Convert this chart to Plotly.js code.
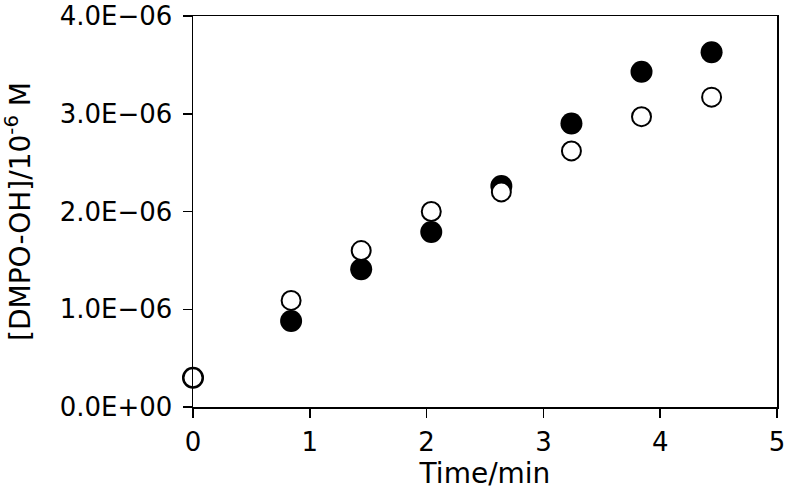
<!DOCTYPE html>
<html>
<head>
<meta charset="utf-8">
<script src="https://cdn.plot.ly/plotly-3.0.1.min.js"></script>
<style>
  html, body { margin: 0; padding: 0; background: #fff; }
  #plot { width: 789px; height: 494px; }
</style>
</head>
<body>
<div id="plot"></div>
<script>
// Czas w minutach
const time = [0, 0.84, 1.44, 2.04, 2.64, 3.24, 3.84, 4.44];

// Serie: pełne kółka i puste kółka
const filled = [0.3e-6, 0.88e-6, 1.41e-6, 1.79e-6, 2.26e-6, 2.90e-6, 3.43e-6, 3.63e-6];
const open = [0.3e-6, 1.09e-6, 1.60e-6, 2.00e-6, 2.20e-6, 2.62e-6, 2.97e-6, 3.17e-6];

// Etykiety osi Y w stylu Excela
const yTickVals = [0, 1e-6, 2e-6, 3e-6, 4e-6];
const yTickText = ['0.0E+00', '1.0E\u221206', '2.0E\u221206', '3.0E\u221206', '4.0E\u221206'];
const xTickVals = [0, 1, 2, 3, 4, 5];

const tickFont = { family: 'DejaVu Sans, Verdana, sans-serif', size: 26, color: '#000' };
const titleFont = { family: 'DejaVu Sans, Verdana, sans-serif', size: 28, color: '#000' };

const traces = [
    {
        x: time, y: filled, mode: 'markers', type: 'scatter', cliponaxis: false,
        marker: { symbol: 'circle', size: 22, color: '#000' }
    },
    {
        x: time, y: open, mode: 'markers', type: 'scatter', cliponaxis: false,
        marker: { symbol: 'circle', size: 19, color: '#fff', line: { color: '#000', width: 2 } }
    }
];

const layout = {
    width: 789, height: 494,
    margin: { l: 193, r: 12, t: 16, b: 87 },
    paper_bgcolor: '#fff', plot_bgcolor: '#fff',
    showlegend: false,
    font: tickFont,
    xaxis: {
        range: [0, 5], tickvals: xTickVals,
        showgrid: false, zeroline: false,
        showline: true, linecolor: '#000', linewidth: 1.5, mirror: true,
        ticks: 'outside', ticklen: 9, tickwidth: 1.5, tickcolor: '#000',
        tickfont: tickFont, ticklabelstandoff: 2, ticklabeloverflow: 'allow',
        title: { text: 'Time/min', font: titleFont, standoff: 6 }
    },
    yaxis: {
        range: [0, 4e-6], tickvals: yTickVals, ticktext: yTickText,
        showgrid: false, zeroline: false,
        showline: true, linecolor: '#000', linewidth: 1.5, mirror: true,
        ticks: 'outside', ticklen: 9, tickwidth: 1.5, tickcolor: '#000',
        tickfont: tickFont, ticklabelstandoff: 5, ticklabeloverflow: 'allow',
        title: { text: '[DMPO-OH]/10<sup>-6</sup> M', font: titleFont, standoff: 22 }
    }
};

Plotly.newPlot('plot', traces, layout, { displayModeBar: false, staticPlot: true });
</script>
</body>
</html>
